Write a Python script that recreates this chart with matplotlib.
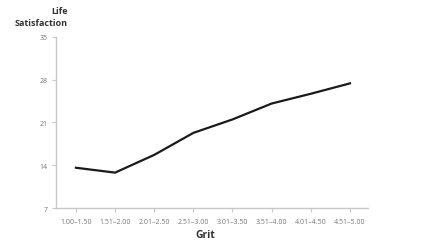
import matplotlib
matplotlib.use("Agg")
import matplotlib.pyplot as plt

categories = ["1.00–1.50", "1.51–2.00", "2.01–2.50", "2.51–3.00",
              "3.01–3.50", "3.51–4.00", "4.01–4.50", "4.51–5.00"]
life_satisfaction = [13.6, 12.8, 15.7, 19.3, 21.5, 24.1, 25.7, 27.4]
yticks = [7, 14, 21, 28, 35]

plt.rcParams['font.family'] = ['Open Sans', 'DejaVu Sans']

fig = plt.figure(figsize=(4.37, 2.51), dpi=100)
ax = fig.add_axes([0.128, 0.167, 0.714, 0.682])
x = list(range(len(categories)))
ax.plot(x, life_satisfaction, color='#1a1a1a', linewidth=1.6, solid_joinstyle='miter')
ax.set_xlim(-0.51, 7.46)
ax.set_ylim(7, 35)
ax.set_yticks(yticks)
ax.set_yticklabels([str(v) for v in yticks])
ax.set_xticks(x)
ax.set_xticklabels(categories)
for s in ['top', 'right']:
    ax.spines[s].set_visible(False)
for s in ['left', 'bottom']:
    ax.spines[s].set_color('#c8c8c8')
    ax.spines[s].set_linewidth(1.0)
ax.tick_params(axis='both', colors='#c8c8c8', labelcolor='#777777', labelsize=5, length=3, width=0.8, pad=3)
ax.tick_params(axis='x', pad=4)
fig.text(68/437, 1 - 12/251, "Life", ha='right', va='center', fontsize=6.5, fontweight='bold', color='#333333')
fig.text(68/437, 1 - 23/251, "Satisfaction", ha='right', va='center', fontsize=6.5, fontweight='bold', color='#333333')
fig.text(205/437, 1 - 236/251, "Grit", ha='center', va='center', fontsize=7.5, fontweight='bold', color='#333333')
fig.savefig("out.png", dpi=100)
